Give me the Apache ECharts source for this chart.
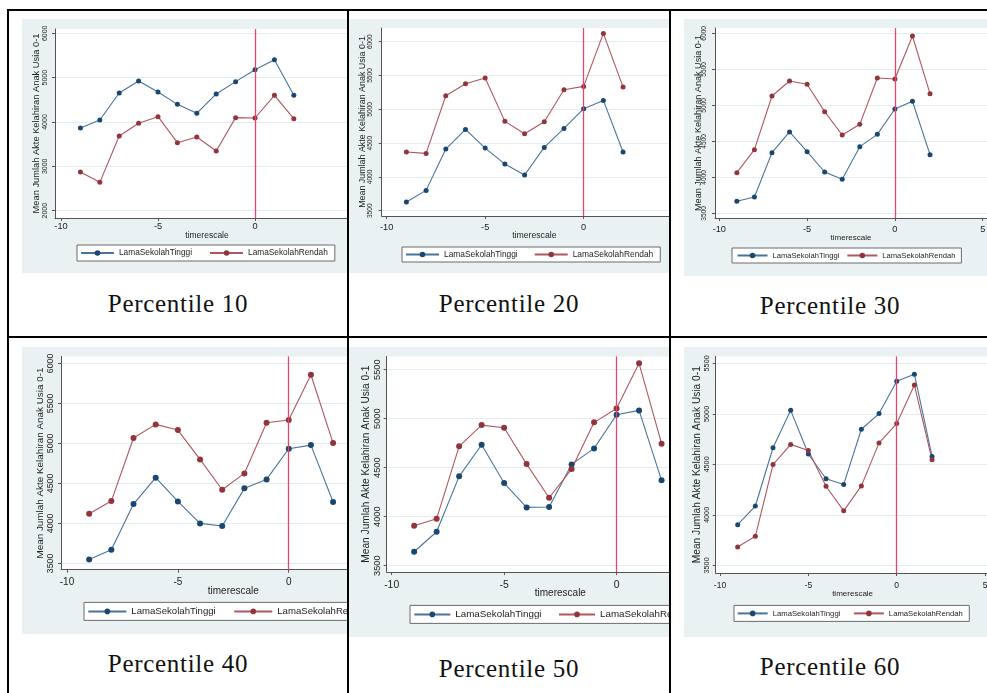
<!DOCTYPE html>
<html>
<head>
<meta charset="utf-8">
<script src="https://cdn.jsdelivr.net/npm/echarts@6/dist/echarts.min.js"></script>
<style>
body{margin:0;background:#fff;width:987px;height:693px;position:relative;overflow:hidden}
.cell{position:absolute;overflow:hidden}
.chart{position:absolute}
.rule{position:absolute;background:#000}
.cap{position:absolute;font-family:"Liberation Serif",serif;font-size:25px;line-height:25px;letter-spacing:0.7px;color:#111;white-space:nowrap;transform:translateX(-50%)}
</style>
</head>
<body>
<div id="page"></div>
<script>
/* data */
var names = ['LamaSekolahTinggi', 'LamaSekolahRendah'];
var xValues = [-9, -8, -7, -6, -5, -4, -3, -2, -1, 0, 1, 2];
var tinggiP10 = [3865, 4045, 4654, 4925, 4677, 4398, 4195, 4632, 4910, 5180, 5406, 4602];
var rendahP10 = [2872, 2639, 3684, 3970, 4120, 3534, 3662, 3346, 4098, 4090, 4602, 4075];
var tinggiP20 = [3628, 3801, 4412, 4703, 4427, 4190, 4028, 4437, 4718, 5009, 5132, 4368];
var rendahP20 = [4368, 4348, 5201, 5379, 5463, 4822, 4639, 4817, 5290, 5339, 6123, 5329];
var tinggiP30 = [3667, 3727, 4343, 4630, 4356, 4074, 3972, 4426, 4597, 4949, 5056, 4315];
var rendahP30 = [4065, 4384, 5130, 5338, 5292, 4912, 4588, 4736, 5380, 5366, 5963, 5162];
var tinggiP40 = [3550, 3671, 4242, 4571, 4275, 4000, 3967, 4438, 4550, 4933, 4979, 4267];
var rendahP40 = [4121, 4279, 5067, 5238, 5167, 4800, 4421, 4625, 5258, 5292, 5858, 5004];
var tinggiP50 = [3643, 3847, 4412, 4735, 4344, 4095, 4099, 4534, 4697, 5041, 5085, 4371];
var rendahP50 = [3908, 3980, 4718, 4935, 4908, 4537, 4194, 4486, 4963, 5105, 5565, 4745];
var tinggiP60 = [3903, 4088, 4665, 5035, 4603, 4358, 4302, 4848, 5003, 5323, 5393, 4578];
var rendahP60 = [3682, 3788, 4498, 4698, 4637, 4284, 4040, 4287, 4713, 4904, 5285, 4545];
var xTicks = [-10, -5, 0, 5];
var yTicksP10 = [2000, 3000, 4000, 5000, 6000];
var yTicksP20 = [3500, 4000, 4500, 5000, 5500, 6000];
var yTicksP50 = [3500, 4000, 4500, 5000, 5500];
var captions = ['Percentile 10', 'Percentile 20', 'Percentile 30', 'Percentile 40', 'Percentile 50', 'Percentile 60'];
var yTitle = 'Mean Jumlah Akte Kelahiran Anak Usia 0-1';
var xTitle = 'timerescale';

/* table cells (page px) */
var cells = [
    {l: 9, t: 11, w: 338, h: 325},
    {l: 349, t: 11, w: 320, h: 325},
    {l: 671, t: 11, w: 316, h: 325},
    {l: 9, t: 338, w: 338, h: 355},
    {l: 349, t: 338, w: 320, h: 355},
    {l: 671, t: 338, w: 316, h: 355}
];
var rules = [
    [7, 9, 980, 2], [7, 336, 980, 2], [7, 9, 2, 684], [347, 9, 2, 684], [669, 9, 2, 684]
];

/* layout of each panel: graph box on page, grid inside it, axis ranges, fonts */
var panels = [
    {tinggi: tinggiP10, rendah: rendahP10, yTicks: yTicksP10,
     box: [22, 19, 347, 254], grid: [33, 10, 304, 189], x: [-10.31, 5.36], y: [1835, 6097],
     fy: 7, fyt: 9.3, fx: 9.2, fxt: 8.5, fl: 8.3, my: 6.3, gy: 13.7, mx: 4.3, gx: 13.3,
     leg: [55, 226], legLine: 33, legGap: 17, legPad: [4, 7, 4, 3], sym: 5,
     cap: [178, 291]},
    {tinggi: tinggiP20, rendah: rendahP20, yTicks: yTicksP20,
     box: [348, 19, 349, 254], grid: [33.7, 9, 305.3, 188], x: [-10.254, 5.246], y: [3422, 6203],
     fy: 6.6, fyt: 8.9, fx: 9.2, fxt: 8.7, fl: 8.4, my: 8, gy: 15, mx: 6.7, gx: 15.2,
     leg: [54, 228], legLine: 33, legGap: 16, legPad: [3.5, 7, 3.5, 3], sym: 5,
     cap: [509, 291]},
    {tinggi: tinggiP30, rendah: rendahP30, yTicks: yTicksP20,
     box: [684, 19, 313, 257], grid: [31, 9, 272, 190], x: [-10.245, 5.245], y: [3435, 6074],
     fy: 6.6, fyt: 9.1, fx: 9.2, fxt: 8, fl: 7.6, my: 7.3, gy: 12.5, mx: 7, gx: 15.9,
     leg: [48, 229], legLine: 30, legGap: 7, legPad: [3.5, 6, 3.5, 4.5], sym: 5,
     cap: [830, 293]},
    {tinggi: tinggiP40, rendah: rendahP40, yTicks: yTicksP20,
     box: [22, 347.3, 398, 287], grid: [39, 9.4, 344.6, 213.3], x: [-10.27, 5.27], y: [3421, 6088],
     fy: 8.8, fyt: 9.9, fx: 10, fxt: 10, fl: 9.6, my: 6, gy: 15.3, mx: 7.8, gx: 16.8,
     leg: [62, 255.4], legLine: 38, legGap: 17.5, legPad: [4, 7, 4, 3.3], sym: 6,
     cap: [178, 651]},
    {tinggi: tinggiP50, rendah: rendahP50, yTicks: yTicksP50,
     box: [348, 347.3, 398, 290.4], grid: [38.7, 9.4, 347.3, 215.6], x: [-10.22, 5.22], y: [3436, 5636],
     fy: 9.2, fyt: 10.2, fx: 10.4, fxt: 10, fl: 9.8, my: 4.8, gy: 15.9, mx: 7.7, gx: 16.5,
     leg: [62, 258.4], legLine: 36, legGap: 16.5, legPad: [4, 7, 4, 3.3], sym: 6,
     cap: [509, 656]},
    {tinggi: tinggiP60, rendah: rendahP60, yTicks: yTicksP50,
     box: [684, 347.3, 316, 290.4], grid: [31.7, 9.4, 273.8, 216.6], x: [-10.243, 5.25], y: [3425, 5569],
     fy: 7.3, fyt: 10.2, fx: 8.5, fxt: 8, fl: 7.7, my: 5.6, gy: 13.2, mx: 7.7, gx: 16.6,
     leg: [50, 258.4], legLine: 30, legGap: 12.5, legPad: [4, 6.5, 4, 2.7], sym: 5,
     cap: [830, 654]}
];

function pairs(xs, ys) {
    return xs.map(function (x, i) { return [x, ys[i]]; });
}

function plain(v) {
    return String(v);
}

function panelOption(p) {
    var axisColor = '#555';
    var textColor = '#222';
    return {
        animation: false,
        backgroundColor: '#e9f1f3',
        textStyle: {fontFamily: '"Liberation Sans", Arial, sans-serif'},
        grid: {
            left: p.grid[0], top: p.grid[1], width: p.grid[2], height: p.grid[3],
            show: true, backgroundColor: '#fff', borderWidth: 0,
            containLabel: false, outerBoundsMode: 'none'
        },
        legend: {
            data: names,
            left: p.leg[0], top: p.leg[1],
            itemWidth: p.legLine, itemHeight: 7, itemGap: p.legGap,
            padding: p.legPad,
            borderColor: '#6b6b6b', borderWidth: 1, backgroundColor: '#fff', borderRadius: 0,
            textStyle: {fontSize: p.fl, color: textColor}
        },
        xAxis: {
            type: 'value', min: p.x[0], max: p.x[1],
            axisLine: {onZero: false, lineStyle: {color: axisColor, width: 1}},
            axisTick: {length: 3, customValues: xTicks, lineStyle: {color: axisColor}},
            axisLabel: {customValues: xTicks, formatter: plain, fontSize: p.fx, margin: p.mx, color: textColor},
            splitLine: {show: false},
            name: xTitle, nameLocation: 'middle', nameGap: p.gx, nameMoveOverlap: false,
            nameTextStyle: {fontSize: p.fxt, color: textColor}
        },
        yAxis: {
            type: 'value', min: p.y[0], max: p.y[1],
            axisLine: {show: true, onZero: false, lineStyle: {color: axisColor, width: 1}},
            axisTick: {show: true, length: 3, customValues: p.yTicks, lineStyle: {color: axisColor}},
            axisLabel: {customValues: p.yTicks, formatter: plain, rotate: 90, fontSize: p.fy,
                        margin: p.my, color: textColor},
            splitLine: {show: true, lineStyle: {color: '#e4eef0', width: 1}},
            name: yTitle, nameLocation: 'middle', nameRotate: 90, nameGap: p.gy, nameMoveOverlap: false,
            nameTextStyle: {fontSize: p.fyt, color: textColor}
        },
        series: [
            {
                type: 'line', data: [], silent: true, z: 1,
                markLine: {
                    symbol: ['none', 'none'], silent: true, animation: false,
                    label: {show: false},
                    lineStyle: {color: '#e2486e', width: 1.3, type: 'solid'},
                    data: [{xAxis: 0}]
                }
            },
            {
                name: names[0], type: 'line', data: pairs(xValues, p.tinggi), z: 3,
                symbol: 'circle', symbolSize: p.sym,
                itemStyle: {color: '#1a476f'},
                lineStyle: {color: '#4a739b', width: 1.1}
            },
            {
                name: names[1], type: 'line', data: pairs(xValues, p.rendah), z: 3,
                symbol: 'circle', symbolSize: p.sym,
                itemStyle: {color: '#90353b'},
                lineStyle: {color: '#b0565f', width: 1.1}
            }
        ]
    };
}

var page = document.getElementById('page');
rules.forEach(function (r) {
    var d = document.createElement('div');
    d.className = 'rule';
    d.style.cssText = 'left:' + r[0] + 'px;top:' + r[1] + 'px;width:' + r[2] + 'px;height:' + r[3] + 'px;z-index:5';
    page.appendChild(d);
});

panels.forEach(function (p, i) {
    var c = cells[i];
    var cell = document.createElement('div');
    cell.className = 'cell';
    cell.style.cssText = 'left:' + c.l + 'px;top:' + c.t + 'px;width:' + c.w + 'px;height:' + c.h + 'px';
    var el = document.createElement('div');
    el.className = 'chart';
    el.style.cssText = 'left:' + (p.box[0] - c.l) + 'px;top:' + (p.box[1] - c.t) + 'px;width:' +
        p.box[2] + 'px;height:' + p.box[3] + 'px';
    cell.appendChild(el);
    page.appendChild(cell);
    var chart = echarts.init(el, null, {renderer: 'canvas'});
    chart.setOption(panelOption(p));

    var cap = document.createElement('div');
    cap.className = 'cap';
    cap.textContent = captions[i];
    cap.style.left = p.cap[0] + 'px';
    cap.style.top = p.cap[1] + 'px';
    page.appendChild(cap);
});
</script>
</body>
</html>
